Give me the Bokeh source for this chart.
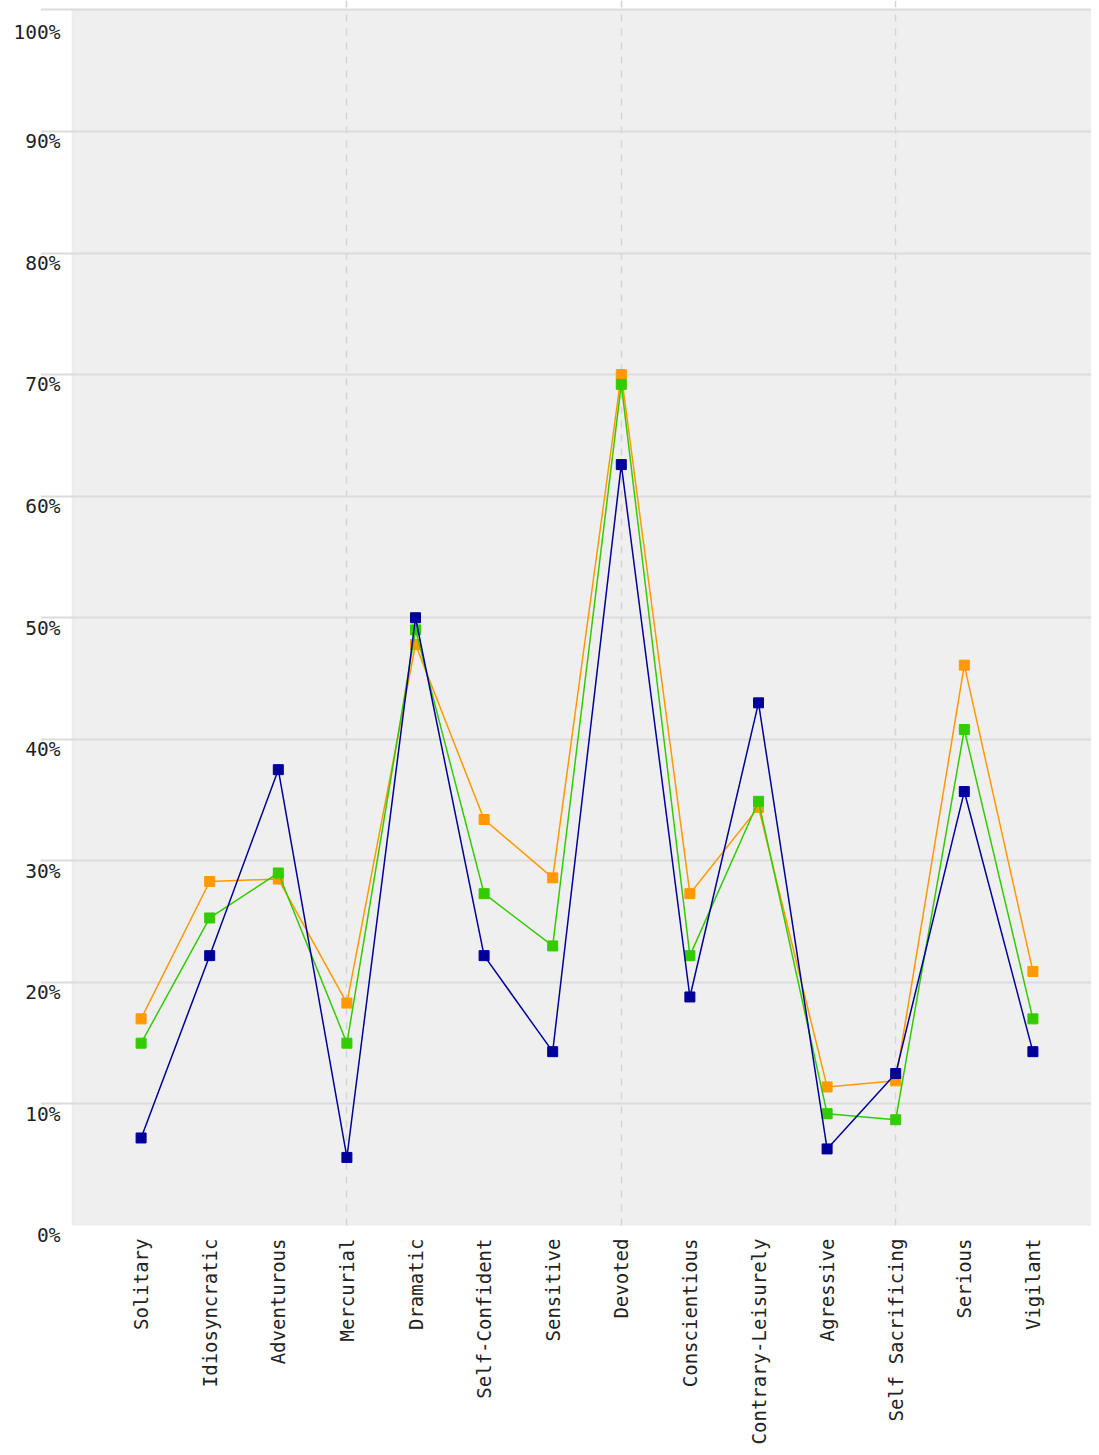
from bokeh.plotting import figure
from bokeh.models import FixedTicker, Range1d, BoxAnnotation
from bokeh.embed import file_html
from bokeh.resources import INLINE
import math

categories = ["Solitary", "Idiosyncratic", "Adventurous", "Mercurial", "Dramatic",
              "Self-Confident", "Sensitive", "Devoted", "Conscientious",
              "Contrary-Leisurely", "Agressive", "Self Sacrificing", "Serious", "Vigilant"]
orange_vals = [17.0, 28.3, 28.5, 18.3, 47.8, 33.4, 28.6, 70.0, 27.3, 34.4, 11.4, 11.9, 46.1, 20.9]
green_vals = [15.0, 25.3, 29.0, 15.0, 49.0, 27.3, 23.0, 69.2, 22.2, 34.9, 9.2, 8.7, 40.8, 17.0]
blue_vals = [7.2, 22.2, 37.5, 5.6, 50.0, 22.2, 14.3, 62.6, 18.8, 43.0, 6.3, 12.5, 35.7, 14.3]
y_ticks = [0, 10, 20, 30, 40, 50, 60, 70, 80, 90, 100]
y_labels = [f"{t}%" for t in y_ticks]
x_pos = list(range(1, len(categories) + 1))

FONT = "DejaVu Sans Mono"
GRID = "#dcdcdc"
W, LEFT = 1091, 40   # frame starts where the gridline stubs start
STUB = 32            # px of gridline left of the grey plot area
STEP = 68.6          # px per category
TOP_PAD = 0.78       # small white strip above the 100% line

p = figure(width=W, height=1447, output_backend="svg", toolbar_location=None,
           x_range=Range1d(-STUB / STEP, (W - LEFT - STUB) / STEP),
           y_range=Range1d(0, 100 + TOP_PAD),
           min_border_left=LEFT, min_border_right=0, min_border_top=0, min_border_bottom=10)
p.background_fill_color = "white"
p.border_fill_color = "white"
p.outline_line_color = None
# grey plot area (drawn beneath the grid lines)
p.add_layout(BoxAnnotation(left=0, right=len(categories) + 2, bottom=0, top=100,
                           fill_color="#efefef", fill_alpha=1.0,
                           line_color=GRID, line_width=2, level="image"))

series = [(orange_vals, "#ff9900"), (green_vals, "#33cc00"), (blue_vals, "#000099")]
for vals, col in series:
    p.line(x_pos, vals, line_color=col, line_width=1.5)
    p.scatter(x_pos, vals, marker="square", size=10, fill_color=col, line_color=col)

# y axis: labels only, pushed below each gridline with a leading blank line
p.yaxis.ticker = FixedTicker(ticks=y_ticks)
p.yaxis.major_label_overrides = {t: "\n" + s for t, s in zip(y_ticks, y_labels)}
p.yaxis.axis_line_color = None
p.yaxis.major_tick_line_color = None
p.yaxis.major_tick_out = 0
p.yaxis.major_tick_in = 0
p.yaxis.minor_tick_line_color = None
p.yaxis.major_label_standoff = -20
p.yaxis.major_label_text_font = FONT
p.yaxis.major_label_text_font_size = "19.5px"
p.yaxis.major_label_text_line_height = 0.9
p.yaxis.major_label_text_color = "#222222"

# x axis
p.xaxis.ticker = FixedTicker(ticks=x_pos)
p.xaxis.major_label_overrides = {i + 1: c for i, c in enumerate(categories)}
p.xaxis.major_label_orientation = math.pi / 2
p.xaxis.axis_line_color = None
p.xaxis.major_tick_line_color = None
p.xaxis.minor_tick_line_color = None
p.xaxis.major_label_standoff = 7
p.xaxis.major_label_text_font = FONT
p.xaxis.major_label_text_font_size = "19px"
p.xaxis.major_label_text_color = "#222222"

# grids
p.ygrid.ticker = FixedTicker(ticks=y_ticks)
p.ygrid.grid_line_color = GRID
p.ygrid.grid_line_width = 2
p.xgrid.ticker = FixedTicker(ticks=[4, 8, 12])
p.xgrid.grid_line_color = "#d4d4d4"
p.xgrid.grid_line_width = 1.5
p.xgrid.grid_line_dash = "7 7"

open("out.html", "w").write(file_html(p, INLINE))
